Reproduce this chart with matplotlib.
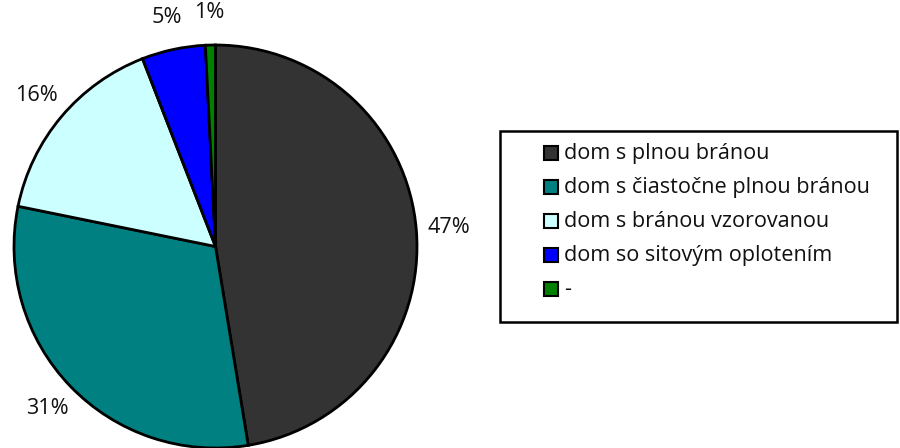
import matplotlib
matplotlib.use("Agg")
import matplotlib.pyplot as plt
from matplotlib.patches import Rectangle

labels = ["dom s plnou bránou", "dom s čiastočne plnou bránou", "dom s bránou vzorovanou",
          "dom so sitovým oplotením", "-"]
values = [47.4, 30.8, 15.9, 5.1, 0.8]
colors = ["#333333", "#008080", "#CCFFFF", "#0000FF", "#008000"]

plt.rcParams['font.family'] = ['Open Sans', 'DejaVu Sans']

W, H = 900, 448
fig = plt.figure(figsize=(W/100, H/100), dpi=100)
ax = fig.add_axes([0, 0, 1, 1])

cx, cy, r = 215.5, H - 246.5, 201.5
wedges, texts, autotexts = ax.pie(values, colors=colors, startangle=90, counterclock=False,
                                  center=(cx, cy), radius=r, frame=True,
                                  autopct=lambda p: f"{p:.0f}%", pctdistance=1.16,
                                  wedgeprops=dict(edgecolor="black", linewidth=2),
                                  textprops=dict(fontsize=15.6, color="#111111"))
ax.set_xlim(0, W)
ax.set_ylim(0, H)
ax.set_aspect('equal')
ax.axis('off')

# legend box
ax.add_patch(Rectangle((500, H - 322), 397, 191, fill=False, edgecolor="black", linewidth=1.8))
for i, (lab, col) in enumerate(zip(labels, colors)):
    yc = H - (153 + 34 * i)
    ax.add_patch(Rectangle((544, yc - 7), 14, 14, facecolor=col, edgecolor="black", linewidth=1.5))
    ax.text(564, yc, lab, fontsize=15.6, va='center', ha='left', color="#111111")

fig.savefig("out.png", dpi=100)
